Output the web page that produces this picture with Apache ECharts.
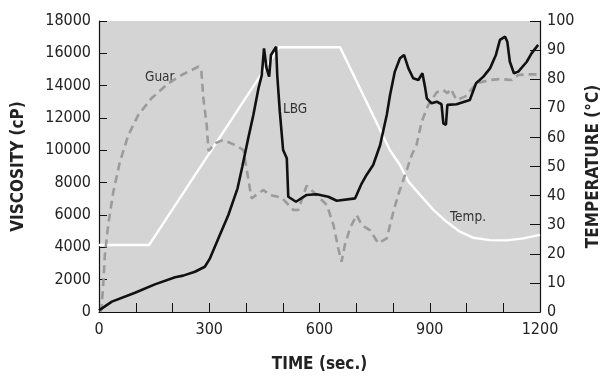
<!DOCTYPE html>
<html>
<head>
<meta charset="utf-8">
<script src="https://cdn.jsdelivr.net/npm/echarts@6/dist/echarts.min.js"></script>
<style>
  html, body { margin: 0; padding: 0; background: #fff; }
  #main { width: 602px; height: 378px; }
</style>
</head>
<body>
<div id="main"></div>
<script>
// viscosity curves (time in sec, viscosity in cP)
var lbgTime = [0, 35, 98, 152, 207, 229, 261, 288, 302, 325, 352, 377, 390, 406, 420, 434, 443, 449, 456, 463, 468, 482, 485, 492, 501, 511, 515, 536, 565, 592, 624, 647, 697, 715, 728, 746, 765, 783, 792, 805, 819, 830, 842, 855, 869, 880, 887, 892, 905, 919, 932, 937, 944, 948, 973, 1009, 1026, 1046, 1064, 1080, 1091, 1105, 1111, 1118, 1129, 1141, 1164, 1177, 1195];
var lbgVisc = [100, 640, 1195, 1710, 2150, 2250, 2490, 2800, 3320, 4560, 6000, 7650, 9000, 10740, 12190, 13840, 14660, 16310, 15070, 14560, 15900, 16410, 14660, 12390, 10020, 9510, 7130, 6820, 7240, 7280, 7130, 6880, 7030, 7960, 8480, 9090, 10330, 12190, 13420, 14870, 15690, 15900, 15070, 14460, 14350, 14770, 13940, 13220, 12910, 13010, 12850, 11670, 11570, 12810, 12850, 13110, 14150, 14560, 15070, 15900, 16830, 17030, 16720, 15480, 14770, 14870, 15480, 16000, 16520];

var guarTime = [4, 7, 12, 16, 25, 39, 57, 80, 107, 143, 189, 225, 270, 278, 284, 293, 298, 316, 338, 370, 393, 406, 415, 447, 465, 497, 529, 542, 565, 592, 620, 638, 651, 660, 669, 683, 701, 715, 737, 760, 783, 792, 801, 814, 833, 851, 864, 878, 896, 919, 937, 948, 957, 973, 996, 1028, 1064, 1091, 1123, 1141, 1164, 1195];
var guarVisc = [0, 230, 1880, 3530, 5380, 7440, 9300, 10950, 12190, 13220, 14150, 14660, 15170, 15070, 13220, 11570, 9960, 10440, 10640, 10330, 10020, 8270, 7030, 7550, 7240, 7070, 6310, 6310, 7810, 7240, 6620, 5380, 3940, 3110, 4140, 5180, 6000, 5380, 5070, 4250, 4560, 5380, 6200, 7240, 8480, 9710, 10330, 11770, 12810, 13590, 13730, 13530, 13800, 13110, 13320, 14150, 14350, 14410, 14350, 14660, 14700, 14700];

// temperature profile (time in sec, deg C)
var tempTime = [0, 136, 490, 656, 792, 819, 842, 874, 910, 946, 982, 1019, 1064, 1109, 1155, 1200];
var tempVal = [23, 23, 91, 91, 55.5, 50.5, 44.8, 40.2, 35.1, 31, 27.6, 25.5, 24.7, 24.6, 25.3, 26.5];

var viscTicks = [0, 18000, 2000];
var tempTicks = [0, 100, 10];
var timeTicks = [0, 1200, 100];

function pairs(xs, ys) {
    var out = [];
    for (var i = 0; i < xs.length; i++) out.push([xs[i], ys[i]]);
    return out;
}

var FONT = "'DejaVu Sans Condensed', 'DejaVu Sans', sans-serif";
var chart = echarts.init(document.getElementById('main'), null, { renderer: 'canvas' });

var option = {
    animation: false,
    backgroundColor: '#ffffff',
    grid: {
        left: 99, right: 62, top: 21, bottom: 66,
        outerBoundsMode: 'none',
        containLabel: false,
        show: true,
        backgroundColor: '#d4d4d4',
        borderWidth: 0
    },
    xAxis: {
        type: 'value',
        min: timeTicks[0], max: timeTicks[1], interval: timeTicks[2],
        name: 'TIME (sec.)',
        nameLocation: 'middle',
        nameGap: 44,
        nameTextStyle: { fontFamily: FONT, fontSize: 17, fontWeight: 'bold', color: '#222' },
        axisLine: { show: true, lineStyle: { color: '#111', width: 1.2 } },
        axisTick: { show: true, inside: true, length: 9, lineStyle: { color: '#111' } },
        axisLabel: {
            fontFamily: FONT, fontSize: 16, color: '#222', margin: 10,
            formatter: function (v) { return v % 300 === 0 ? String(v) : ''; }
        },
        splitLine: { show: false }
    },
    yAxis: [{
        type: 'value',
        min: viscTicks[0], max: viscTicks[1], interval: viscTicks[2],
        name: 'VISCOSITY (cP)',
        nameLocation: 'middle',
        nameGap: 72,
        nameTextStyle: { fontFamily: FONT, fontSize: 17, fontWeight: 'bold', color: '#222' },
        axisLine: { show: true, lineStyle: { color: '#111', width: 1.2 } },
        axisTick: { show: true, inside: true, length: 8, lineStyle: { color: '#111' } },
        axisLabel: {
            fontFamily: FONT, fontSize: 16, color: '#222', margin: 8,
            formatter: function (v) { return String(v); }
        },
        splitLine: { show: false }
    }, {
        type: 'value',
        min: tempTicks[0], max: tempTicks[1], interval: tempTicks[2],
        position: 'right',
        name: 'TEMPERATURE (°C)',
        nameLocation: 'middle',
        nameGap: 35,
        nameTextStyle: { fontFamily: FONT, fontSize: 17, fontWeight: 'bold', color: '#222' },
        axisLine: { show: true, lineStyle: { color: '#111', width: 1.2 } },
        axisTick: { show: true, inside: true, length: 10, lineStyle: { color: '#111' } },
        axisLabel: { fontFamily: FONT, fontSize: 16, color: '#222', margin: 7 },
        splitLine: { show: false }
    }],
    series: [{
        name: 'Temp.',
        type: 'line',
        yAxisIndex: 1,
        showSymbol: false,
        data: pairs(tempTime, tempVal),
        lineStyle: { color: '#ffffff', width: 2.4 }
    }, {
        name: 'Guar',
        type: 'line',
        showSymbol: false,
        data: pairs(guarTime, guarVisc),
        lineStyle: { color: '#9b9b9b', width: 2.6, type: [8, 5] }
    }, {
        name: 'LBG',
        type: 'line',
        showSymbol: false,
        data: pairs(lbgTime, lbgVisc),
        lineStyle: { color: '#111111', width: 2.6 }
    }],
    graphic: [
        { type: 'text', left: 145, top: 70, style: { text: 'Guar', font: '13.5px ' + FONT, fill: '#333' } },
        { type: 'text', left: 283, top: 102, style: { text: 'LBG', font: '13.5px ' + FONT, fill: '#333' } },
        { type: 'text', left: 450, top: 210, style: { text: 'Temp.', font: '13.5px ' + FONT, fill: '#333' } }
    ]
};

chart.setOption(option);
</script>
</body>
</html>
